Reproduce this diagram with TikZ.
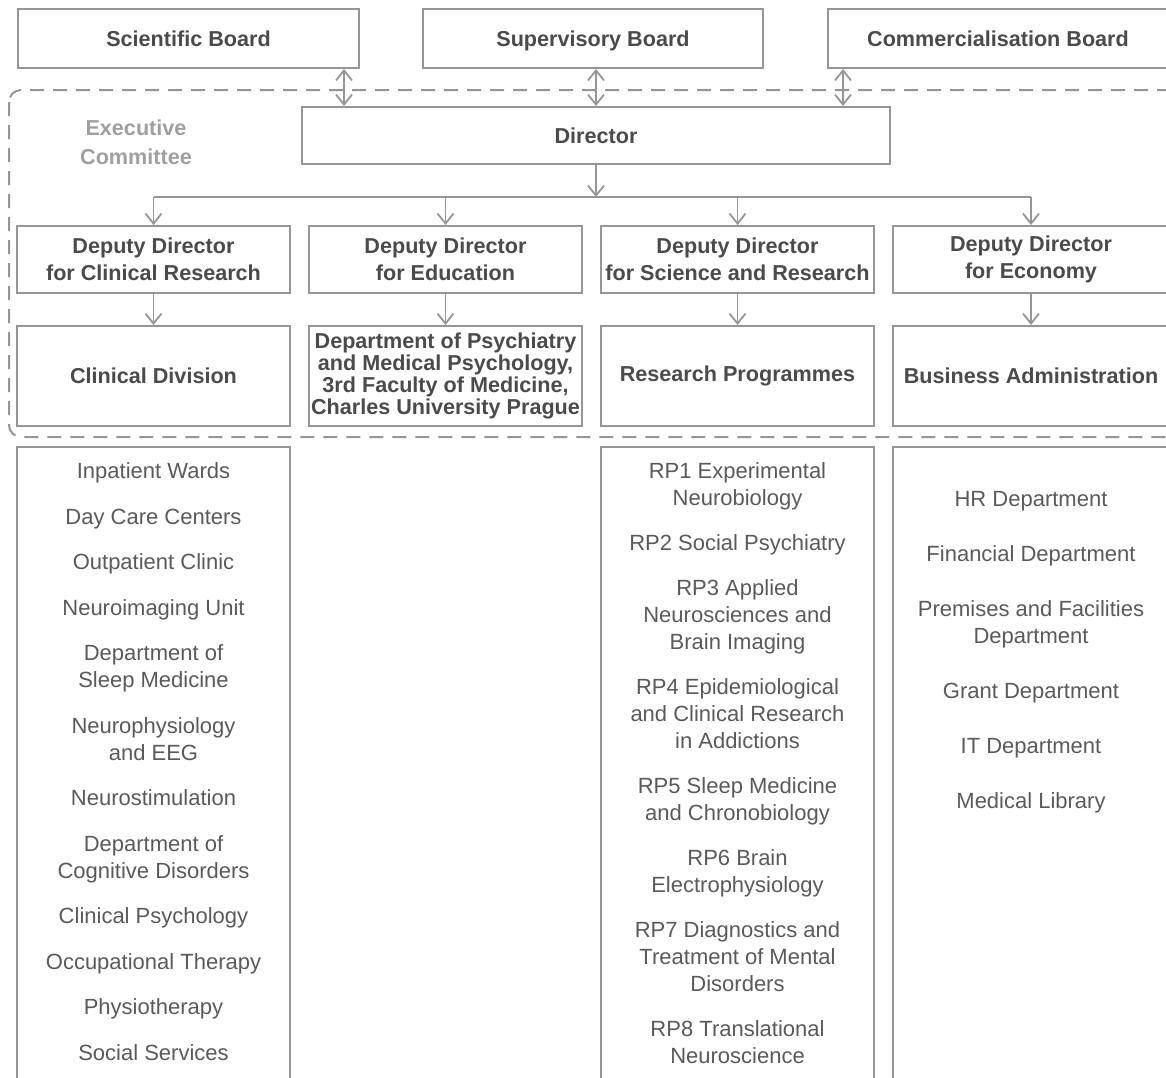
\documentclass[tikz,border=0pt]{standalone}
\usepackage{fontspec}
\setmainfont{Liberation Sans}
\usetikzlibrary{positioning, arrows.meta}

\definecolor{framegray}{RGB}{150,150,150}
\definecolor{labeldark}{RGB}{75,75,75}
\definecolor{itemgray}{RGB}{90,90,90}
\definecolor{execgray}{RGB}{160,160,160}

\tikzset{
  unit/.style={draw=framegray, line width=1pt, rectangle, align=center, text=labeldark,
    font=\fontsize{10.8}{13.5}\selectfont\bfseries, inner sep=1pt},
  board/.style={unit, minimum width=170pt, minimum height=29.5pt, text height=8pt, text depth=0pt},
  deputy/.style={unit, minimum width=136.5pt, minimum height=33.5pt},
  division/.style={unit, minimum width=136.5pt, minimum height=50pt},
  listcol/.style={draw=framegray, line width=1pt, rectangle, minimum width=136.5pt, minimum height=330pt},
  items/.style={align=center, text=itemgray, font=\fontsize{11}{13.5}\selectfont, inner sep=0pt},
  barb/.tip={Straight Barb[length=5pt,width=8pt]},
  link/.style={draw=framegray, line width=0.9pt, -barb},
  twoway/.style={draw=framegray, line width=0.9pt, barb-barb},
  exframe/.style={draw=framegray, line width=1pt, dash pattern=on 7pt off 4.5pt, rounded corners=6pt},
}

\begin{document}
\begin{tikzpicture}[x=0.5pt, y=-0.5pt]
\useasboundingbox (0,0) rectangle (1166,1077);
\clip (0,0) rectangle (1166,1077);

% boards
\node[board, minimum width=170.5pt] (sci) at (188.5,38.5) {Scientific Board};
\node[board, right=31pt of sci] (sup) {Supervisory Board};
\node[board, right=31.5pt of sup] (com) {Commercialisation Board};

% executive committee frame
\draw[exframe] (9,90) rectangle (1200,437);
\node[align=center, text=execgray, font=\fontsize{10.8}{14.5}\selectfont\bfseries] (exec) at (136,142.5) {Executive\\Committee};

\node[board, minimum width=294pt, minimum height=28.5pt, below=18.5pt of sup, xshift=1.5pt] (dir) {Director};

% deputies
\node[deputy] (dep1) at (153.5,259.5) {Deputy Director\\for Clinical Research};
\node[deputy, right=8.5pt of dep1] (dep2) {Deputy Director\\for Education};
\node[deputy, right=8.5pt of dep2] (dep3) {Deputy Director\\for Science and Research};
\node[deputy, right=8.5pt of dep3, minimum width=138pt] (dep4) {Deputy Director\\for Economy};

% divisions
\node[division, below=15.5pt of dep1] (clin) {Clinical Division};
\node[division, below=15.5pt of dep2, font=\fontsize{10.8}{10}\selectfont\bfseries, inner xsep=0pt] (edu) {Department of Psychiatry\\and Medical Psychology,\\3rd Faculty of Medicine,\\Charles University Prague};
\node[division, below=15.5pt of dep3] (rp) {Research Programmes};
\node[division, below=15.5pt of dep4, minimum width=138pt] (admin) {Business Administration};

% links to the boards
\coordinate (scilink) at ([xshift=-8pt]sci.south east);
\coordinate (comlink) at ([xshift=8pt]com.south west);
\draw[twoway] (scilink) -- (scilink |- dir.north);
\draw[twoway] (dir.north |- sup.south) -- (dir.north);
\draw[twoway] (comlink) -- (comlink |- dir.north);

% director down to the deputies
\coordinate[below=16pt of dir.south] (bus);
\draw[link] (dir.south) -- (bus);
\draw[draw=framegray, line width=0.9pt] (dep1.north |- bus) -- (dep4.north |- bus);
\foreach \d in {dep1,dep2,dep3,dep4}
  \draw[link] (\d.north |- bus) -- (\d.north);
\foreach \d/\u in {dep1/clin,dep2/edu,dep3/rp,dep4/admin}
  \draw[link] (\d) -- (\u);

% lists
\node[listcol, below=9.5pt of clin] (clinlist) {};
\node[listcol, below=9.5pt of rp] (rplist) {};
\node[listcol, below=9.5pt of admin, minimum width=138pt] (adminlist) {};

\node[items, below=8.3pt of clinlist.north] (clinitems) {Inpatient Wards\\[9.25pt]
  Day Care Centers\\[9.25pt]
  Outpatient Clinic\\[9.25pt]
  Neuroimaging Unit\\[9.25pt]
  Department of\\Sleep Medicine\\[9.25pt]
  Neurophysiology\\and EEG\\[9.25pt]
  Neurostimulation\\[9.25pt]
  Department of\\Cognitive Disorders\\[9.25pt]
  Clinical Psychology\\[9.25pt]
  Occupational Therapy\\[9.25pt]
  Physiotherapy\\[9.25pt]
  Social Services};

\node[items, below=8.3pt of rplist.north] (rpitems) {RP1 Experimental\\Neurobiology\\[9pt]
  RP2 Social Psychiatry\\[9pt]
  RP3 Applied\\Neurosciences and\\Brain Imaging\\[9pt]
  RP4 Epidemiological\\and Clinical Research\\in Addictions\\[9pt]
  RP5 Sleep Medicine\\and Chronobiology\\[9pt]
  RP6 Brain\\Electrophysiology\\[9pt]
  RP7 Diagnostics and\\Treatment of Mental\\Disorders\\[9pt]
  RP8 Translational\\Neuroscience};

\node[items, below=22.3pt of adminlist.north] (adminitems) {HR Department\\[14pt]
  Financial Department\\[14pt]
  Premises and Facilities\\Department\\[14pt]
  Grant Department\\[14pt]
  IT Department\\[14pt]
  Medical Library};
\end{tikzpicture}
\end{document}
